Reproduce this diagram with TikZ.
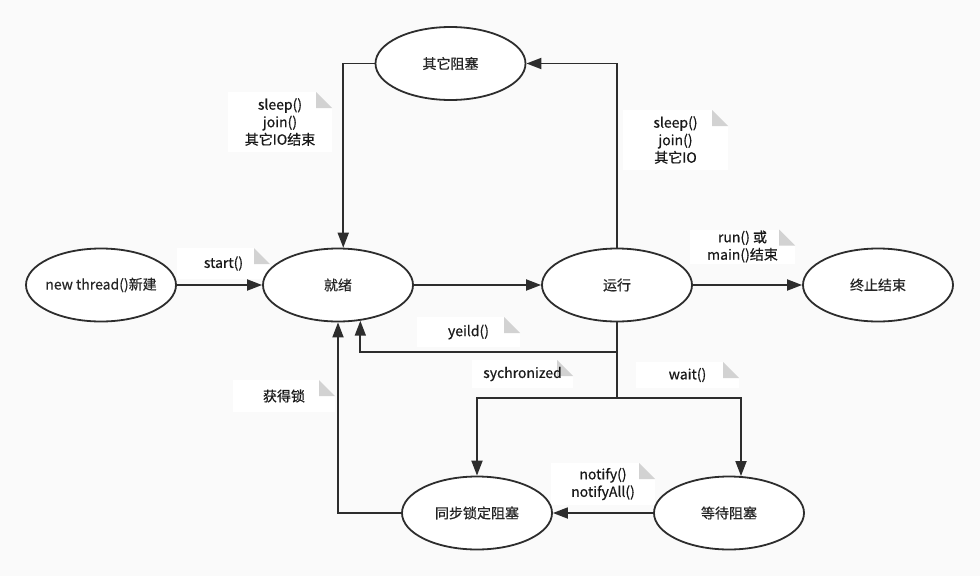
\documentclass[tikz,border=0pt]{standalone}
\usepackage{fontspec}
\setmainfont{Noto Sans CJK SC}[FakeBold=0.5]
\usetikzlibrary{shapes.geometric, arrows.meta}
\definecolor{bgc}{RGB}{250,250,250}
\definecolor{linec}{RGB}{45,45,45}
\definecolor{foldc}{RGB}{210,210,210}
\newcommand{\statetext}[1]{\makebox[0pt]{#1}}
\tikzset{
  state node/.style={
    ellipse,
    draw=linec,
    line width=1.8pt,
    fill=white,
    minimum width=150pt,
    minimum height=73pt,
    inner sep=0pt,
    text=black!85,
    font=\fontsize{14}{17}\selectfont,
  },
  note node/.style={
    fill=white,
    inner sep=0pt,
    align=center,
    text=black!90,
    font=\fontsize{14}{17.5}\selectfont,
    path picture={
      \fill[bgc] ([xshift=-16pt]path picture bounding box.north east) -- (path picture bounding box.north east) -- ([yshift=-16pt]path picture bounding box.north east) -- cycle;
      \fill[foldc] ([xshift=-16pt]path picture bounding box.north east) -- ([xshift=-16pt,yshift=-16pt]path picture bounding box.north east) -- ([yshift=-16pt]path picture bounding box.north east) -- cycle;
    },
  },
  trans/.style={draw=linec, line width=1.8pt},
  arr/.style={trans, -{Triangle[length=15pt,width=11pt]}},
}

\begin{document}
\begin{tikzpicture}[x=1pt, y=-1pt]
        \fill[bgc] (0,0) rectangle (980,576);
        \useasboundingbox (0,0) rectangle (980,576);

        \node[note node, minimum width=104pt, minimum height=60pt] (n-sleep1) at (280,122)   {sleep()\\join()\\其它IO结束};
        \node[note node, minimum width=105pt, minimum height=60pt] (n-sleep2) at (675.5,140) {sleep()\\join()\\其它IO};
        \node[note node, minimum width=93pt,  minimum height=31pt] (n-start)  at (223.5,263.5) {start()};
        \node[note node, minimum width=105pt, minimum height=34pt] (n-exit)   at (742.5,246.5) {run() 或\\main()结束};
        \node[note node, minimum width=103pt, minimum height=30pt] (n-yield)  at (468.5,332) {yeild()};
        \node[note node, minimum width=101pt, minimum height=28pt] (n-sync)   at (522.5,374) {sychronized};
        \node[note node, minimum width=103pt, minimum height=26pt] (n-wait)   at (687.5,375) {wait()};
        \node[note node, minimum width=104pt, minimum height=42pt] (n-notify) at (603,484)   {notify()\\notifyAll()};
        \node[note node, minimum width=102pt, minimum height=32pt] (n-lock)   at (284,396)   {获得锁};

        \node[state node] (new)   at (101,285)   {\statetext{new thread()新建}};
        \node[state node] (ready) at (338,285)   {\statetext{就绪}};
        \node[state node] (run)   at (617,285)   {\statetext{运行}};
        \node[state node] (dead)  at (878,285)   {\statetext{终止结束}};
        \node[state node] (other) at (450.5,63.5) {\statetext{其它阻塞}};
        \node[state node] (sync)  at (477,513)   {\statetext{同步锁定阻塞}};
        \node[state node] (wait)  at (729,513)   {\statetext{等待阻塞}};

        \coordinate (yj) at (617,352);
        \coordinate (sj) at (617,398);

        \draw[arr]   (new) -- (ready);
        \draw[arr]   (ready) -- (run);
        \draw[arr]   (run) -- (dead);

        \draw[arr]   (run) |- (other);
        \draw[arr]   (other) -| (ready.82);

        \draw[trans] (run) -- (sj);
        \draw[arr]   (yj) -| (ready.-58);
        \draw[arr]   (sj) -| (sync);
        \draw[arr]   (sj) -| (wait.72);

        \draw[arr]   (wait) -- (sync);
        \draw[arr]   (sync) -| (ready);
\end{tikzpicture}
\end{document}
